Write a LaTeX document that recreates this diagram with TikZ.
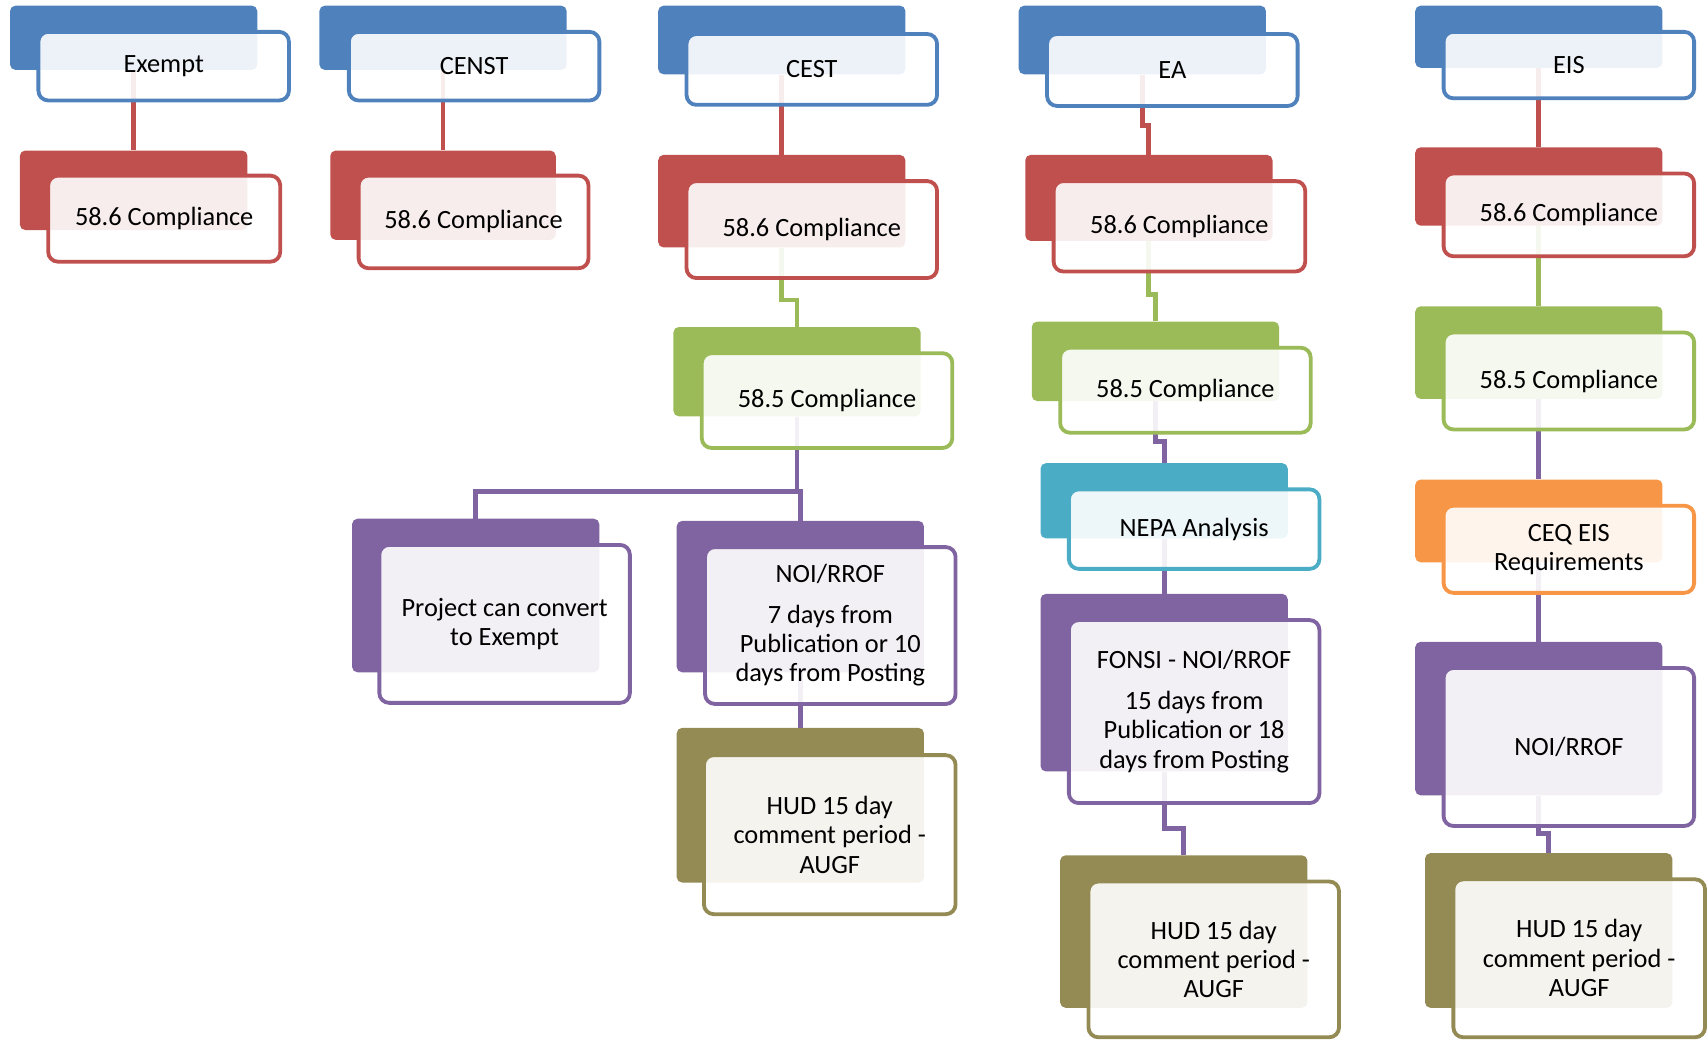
\documentclass[tikz,border=0pt]{standalone}
\usepackage{fontspec}
\setmainfont{Carlito}
\definecolor{hudblue}{HTML}{4F81BD}
\definecolor{hudred}{HTML}{C0504D}
\definecolor{hudgreen}{HTML}{9BBB59}
\definecolor{hudpurple}{HTML}{8064A2}
\definecolor{hudteal}{HTML}{4BACC6}
\definecolor{hudorange}{HTML}{F79646}
\definecolor{hudolive}{HTML}{948A54}
\begin{document}
\begin{tikzpicture}[x=1pt,y=-1pt,
	backbox/.style={anchor=north west, inner sep=0pt, rounded corners=5pt, minimum width=227pt},
	frontbox/.style={anchor=north west, inner sep=0pt, draw, line width=3.5pt, rounded corners=9pt,
		fill=white, fill opacity=0.9, text opacity=1, minimum width=230pt, align=center,
		font=\fontsize{24.2}{27}\selectfont},
	wire/.style={line width=4.5pt}]
	\useasboundingbox (0,0) rectangle (1568,955);

	% back plates
	\node[backbox, fill=hudblue, minimum height=59pt] (exempt-b) at (9,5) {};
	\node[backbox, fill=hudred, minimum width=209pt, minimum height=73pt] (exc-b) at (18,138) {};
	\node[backbox, fill=hudblue, minimum height=59pt] (censt-b) at (293,5) {};
	\node[backbox, fill=hudred, minimum width=207pt, minimum height=82pt] (censtc-b) at (303,138) {};
	\node[backbox, fill=hudblue, minimum height=63pt] (cest-b) at (604,5) {};
	\node[backbox, fill=hudred, minimum height=85pt] (cestc-b) at (604,142) {};
	\node[backbox, fill=hudgreen, minimum height=82pt] (cestg-b) at (618,300) {};
	\node[backbox, fill=hudpurple, minimum height=141pt] (convert-b) at (323,476) {};
	\node[backbox, fill=hudpurple, minimum height=139pt] (cestnoi-b) at (621,478) {};
	\node[backbox, fill=hudolive, minimum height=142pt] (cesthud-b) at (621,668) {};
	\node[backbox, fill=hudblue, minimum height=63pt] (ea-b) at (935,5) {};
	\node[backbox, fill=hudred, minimum height=79pt] (eac-b) at (941,142) {};
	\node[backbox, fill=hudgreen, minimum height=73pt] (eag-b) at (947,295) {};
	\node[backbox, fill=hudteal, minimum height=69pt] (nepa-b) at (955,425) {};
	\node[backbox, fill=hudpurple, minimum height=163pt] (fonsi-b) at (955,545) {};
	\node[backbox, fill=hudolive, minimum height=140pt] (eahud-b) at (973,785) {};
	\node[backbox, fill=hudblue, minimum height=57pt] (eis-b) at (1299,5) {};
	\node[backbox, fill=hudred, minimum height=72pt] (eisc-b) at (1299,135) {};
	\node[backbox, fill=hudgreen, minimum height=85pt] (eisg-b) at (1299,281) {};
	\node[backbox, fill=hudorange, minimum height=76pt] (ceq-b) at (1299,440) {};
	\node[backbox, fill=hudpurple, minimum height=141pt] (eisnoi-b) at (1299,589) {};
	\node[backbox, fill=hudolive, minimum height=142pt] (eishud-b) at (1308,783) {};

	% connectors
	\draw[wire, hudred] (exempt-b.south) -- ++(0,40) -| (exc-b.north);
	\draw[wire, hudred] (censt-b.south) -- ++(0,40) -| (censtc-b.north);
	\draw[wire, hudred] (cest-b.south) -- ++(0,37) -| (cestc-b.north);
	\draw[wire, hudgreen] (cestc-b.south) -- ++(0,48) -| (cestg-b.north);
	\draw[wire, hudpurple] (cestg-b.south) -- ++(0,69) -| (convert-b.north);
	\draw[wire, hudpurple] (cestg-b.south) -- ++(0,69) -| (cestnoi-b.north);
	\draw[wire, hudpurple] (cestnoi-b.south) -- ++(0,25) -| (cesthud-b.north);
	\draw[wire, hudred] (ea-b.south) -- ++(0,47) -| (eac-b.north);
	\draw[wire, hudgreen] (eac-b.south) -- ++(0,49) -| (eag-b.north);
	\draw[wire, hudpurple] (eag-b.south) -- ++(0,37) -| (nepa-b.north);
	\draw[wire, hudpurple] (nepa-b.south) -- ++(0,38) -| (fonsi-b.north);
	\draw[wire, hudpurple] (fonsi-b.south) -- ++(0,52) -| (eahud-b.north);
	\draw[wire, hudred] (eis-b.south) -- ++(0,36) -| (eisc-b.north);
	\draw[wire, hudgreen] (eisc-b.south) -- ++(0,37) -| (eisg-b.north);
	\draw[wire, hudpurple] (eisg-b.south) -- ++(0,37) -| (ceq-b.north);
	\draw[wire, hudpurple] (ceq-b.south) -- ++(0,37) -| (eisnoi-b.north);
	\draw[wire, hudpurple] (eisnoi-b.south) -- ++(0,35) -| (eishud-b.north);

	% front cards
	\node[frontbox, draw=hudblue, minimum height=63pt] (exempt) at (33.5,27.5) {Exempt};
	\node[frontbox, draw=hudred, minimum width=213pt, minimum height=79pt] (exc) at (42.5,159.5) {58.6 Compliance};
	\node[frontbox, draw=hudblue, minimum height=63pt] (censt) at (318.5,27.5) {CENST};
	\node[frontbox, draw=hudred, minimum width=211pt, minimum height=85pt] (censtc) at (327.5,159.5) {58.6 Compliance};
	\node[frontbox, draw=hudblue, minimum height=65pt] (cest) at (628.5,29.5) {CEST};
	\node[frontbox, draw=hudred, minimum height=89pt] (cestc) at (628.5,164.5) {58.6 Compliance};
	\node[frontbox, draw=hudgreen, minimum height=87pt] (cestg) at (642.5,322.5) {58.5 Compliance};
	\node[frontbox, draw=hudpurple, minimum height=145pt] (convert) at (346.5,498.5) {Project can convert\\to Exempt};
	\node[frontbox, draw=hudpurple, minimum height=144pt] (cestnoi) at (645.5,500.5)
		{NOI/RROF\\[10pt]7 days from\\Publication or 10\\days from Posting};
	\node[frontbox, draw=hudolive, minimum width=231pt, minimum height=146pt] (cesthud) at (644.5,691.5)
		{HUD 15 day\\comment period -\\AUGF};
	\node[frontbox, draw=hudblue, minimum height=66pt] (ea) at (959.5,29.5) {EA};
	\node[frontbox, draw=hudred, minimum width=231pt, minimum height=83pt] (eac) at (965.5,164.5) {58.6 Compliance};
	\node[frontbox, draw=hudgreen, minimum height=78pt] (eag) at (971.5,317.5) {58.5 Compliance};
	\node[frontbox, draw=hudteal, minimum height=73pt] (nepa) at (979.5,447.5) {NEPA Analysis};
	\node[frontbox, draw=hudpurple, minimum height=168pt] (fonsi) at (979.5,567.5)
		{FONSI - NOI/RROF\\[10pt]15 days from\\Publication or 18\\days from Posting};
	\node[frontbox, draw=hudolive, minimum height=143pt] (eahud) at (997.5,807.5)
		{HUD 15 day\\comment period -\\AUGF};
	\node[frontbox, draw=hudblue, minimum height=61pt] (eis) at (1323.5,27.5) {EIS};
	\node[frontbox, draw=hudred, minimum height=76pt] (eisc) at (1323.5,157.5) {58.6 Compliance};
	\node[frontbox, draw=hudgreen, minimum height=89pt] (eisg) at (1323.5,303.5) {58.5 Compliance};
	\node[frontbox, draw=hudorange, minimum height=80pt] (ceq) at (1323.5,462.5) {CEQ EIS\\Requirements};
	\node[frontbox, draw=hudpurple, minimum height=145pt] (eisnoi) at (1323.5,611.5) {NOI/RROF};
	\node[frontbox, draw=hudolive, minimum width=231pt, minimum height=145pt] (eishud) at (1332.5,805.5)
		{HUD 15 day\\comment period -\\AUGF};
\end{tikzpicture}
\end{document}
